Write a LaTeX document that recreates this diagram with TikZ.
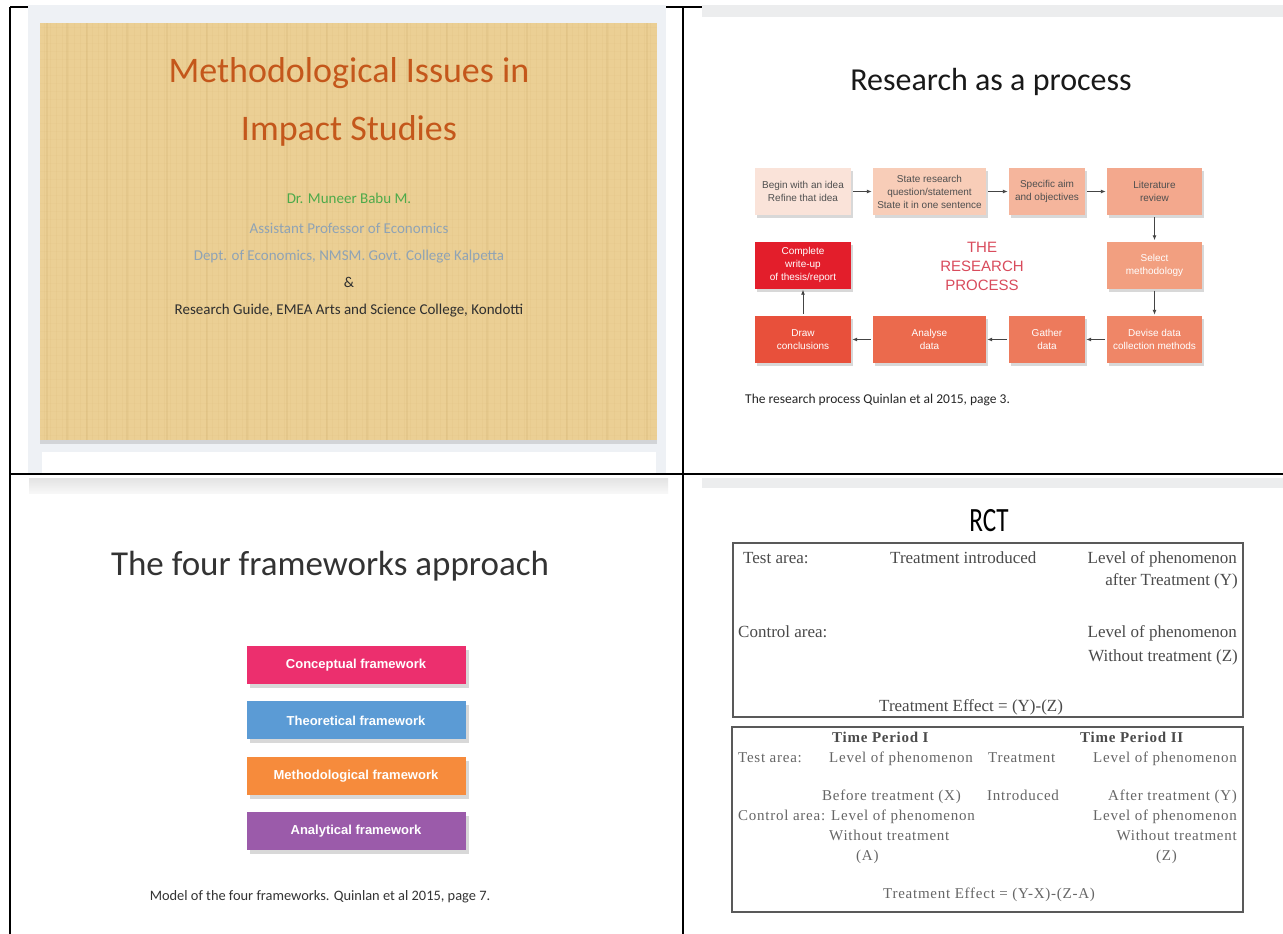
\documentclass[tikz,border=0pt]{standalone}
\usepackage{fontspec}
\usepackage{graphicx}
\setmainfont{Carlito}
\newfontfamily\boxfont{Liberation Sans}
\newfontfamily\rctfont{Liberation Serif}
\newfontfamily\rctwide[LetterSpace=5]{Liberation Serif}
\usetikzlibrary{arrows.meta, shadows, positioning}
\newcommand{\fsz}[2]{\fontsize{#1}{#2}\selectfont}

\definecolor{panelgray}{HTML}{EEF1F5}
\definecolor{stripgray}{HTML}{ECEDEE}
\definecolor{slidetan}{HTML}{EBCF94}
\definecolor{tanbrown}{HTML}{B8944E}
\definecolor{titlebrown}{HTML}{C4571B}
\definecolor{authgreen}{HTML}{4DAA4A}
\definecolor{affblue}{HTML}{8FA3B5}
\definecolor{guidedark}{HTML}{2F2F2F}
\definecolor{rptext}{HTML}{4F4F4F}
\definecolor{rpred}{HTML}{D94B5C}
\definecolor{rpA}{HTML}{FAE3D9}
\definecolor{rpB}{HTML}{F8CDB8}
\definecolor{rpC}{HTML}{F5B59C}
\definecolor{rpD}{HTML}{F3A88D}
\definecolor{rpE}{HTML}{F29F80}
\definecolor{rpF}{HTML}{EF8667}
\definecolor{rpG}{HTML}{ED7A5C}
\definecolor{rpH}{HTML}{EB6A4D}
\definecolor{rpI}{HTML}{E8503B}
\definecolor{rpJ}{HTML}{E31E2B}
\definecolor{arrowgray}{HTML}{444444}
\definecolor{fwpink}{HTML}{EC2F6E}
\definecolor{fwblue}{HTML}{5B9BD5}
\definecolor{fworange}{HTML}{F68B3C}
\definecolor{fwpurple}{HTML}{9B5BAA}
\definecolor{headgray}{HTML}{333333}
\definecolor{rctgray}{HTML}{4A4A4A}
\definecolor{rctlight}{HTML}{666666}
\definecolor{rctline}{HTML}{595959}

\tikzset{
  tablerule/.style={line width=2pt, black},
  streakline/.style={draw=tanbrown, opacity=.06, line width=.8pt},
  streakbold/.style={draw=tanbrown, opacity=.12, line width=1.2pt},
  weaveline/.style={draw=tanbrown, opacity=.035, line width=.6pt},
  slidetext/.style={anchor=base, inner sep=0pt, font=\fsz{15}{18}},
  rpbox/.style={minimum height=47pt, inner sep=1pt, align=center,
    font=\boxfont\fsz{10}{13},
    drop shadow={opacity=.3, shadow xshift=2pt, shadow yshift=-3pt}},
  rpdark/.style={rpbox, text=rptext},
  rplight/.style={rpbox, text=white},
  rparrow/.style={draw=arrowgray, line width=.9pt, shorten <=2pt, shorten >=1pt,
    -{Latex[length=5pt,width=4pt]}},
  fwbox/.style={minimum width=219pt, minimum height=38pt, inner sep=0pt,
    text=white, font=\boxfont\bfseries\fsz{13}{15},
    drop shadow={opacity=.3, shadow xshift=3pt, shadow yshift=-4pt}},
  rctframe/.style={draw=rctline, line width=1.8pt},
  rctl/.style={anchor=base west, inner sep=0pt, text=rctgray, font=\rctfont\fsz{17}{20}},
  rctr/.style={rctl, anchor=base east},
  rctsl/.style={anchor=base west, inner sep=0pt, text=rctlight, font=\rctwide\fsz{15}{18}},
  rctsr/.style={rctsl, anchor=base east},
  rctsb/.style={rctsl, text=rctgray, font=\rctwide\bfseries\fsz{15}{18}}
}

\begin{document}
\begin{tikzpicture}[x=1pt, y=-1pt]
\useasboundingbox (0,0) rectangle (1283,934);
\fill[white] (0,0) rectangle (1283,934);

% table rules
\draw[tablerule] (10,7) -- (1283,7);
\draw[tablerule] (10,7) -- (10,934);
\draw[tablerule] (683,7) -- (683,934);
\draw[tablerule] (10,474) -- (1283,474);

% slide 1: title slide
\fill[panelgray] (28,5) rectangle (666,472.5);
\fill[white] (42,452) rectangle (656,472.5);
\fill[slidetan, drop shadow={opacity=.25, shadow xshift=0pt, shadow yshift=-4pt}] (40,23) rectangle (657,440);
\foreach \x in {44,50,...,654} \draw[streakline] (\x,23) -- (\x,440);
\foreach \x in {47,67,...,647} \draw[streakbold] (\x,23) -- (\x,440);
\foreach \y in {27,35,...,435} \draw[weaveline] (40,\y) -- (657,\y);

\node[anchor=base, inner sep=0pt, font=\fsz{36}{40}, text=titlebrown] (title1) at (349,82) {Methodological Issues in};
\node[anchor=base, inner sep=0pt, font=\fsz{36}{40}, text=titlebrown] (title2) at (349,140) {Impact Studies};
\node[slidetext, text=authgreen] (author) at (349,203) {Dr. Muneer Babu M.};
\node[slidetext, text=affblue] (post) at (349,233) {Assistant Professor of Economics};
\node[slidetext, text=affblue] (dept) at (349,260) {Dept. of Economics, NMSM. Govt. College Kalpetta};
\node[slidetext, text=guidedark] (amp) at (349,287) {\&};
\node[slidetext, text=guidedark] (guide) at (349,314) {Research Guide, EMEA Arts and Science College, Kondotti};

% slide 2: research process
\fill[stripgray] (702,5) rectangle (1283,17);
\node[anchor=base, inner sep=0pt, font=\fsz{32}{36}, text=black!90] (rptitle) at (991,91) {Research as a process};

\node[rpdark, fill=rpA, minimum width=96pt] (rpidea) at (803,191.5) {Begin with an idea\\Refine that idea};
\node[rpdark, fill=rpB, minimum width=113pt] (rpquestion) at (929.5,191.5) {State research\\question/statement\\State it in one sentence};
\node[rpdark, fill=rpC, minimum width=76pt] (rpaims) at (1047,191.5) {Specific aim\\and objectives};
\node[rpdark, fill=rpD, minimum width=95pt] (rplit) at (1154.5,191.5) {Literature\\review};
\node[rplight, fill=rpE, minimum width=95pt] (rpmethod) at (1154.5,265) {Select\\methodology};
\node[rplight, fill=rpF, minimum width=95pt] (rpdevise) at (1154.5,339.5) {Devise data\\collection methods};
\node[rplight, fill=rpG, minimum width=76pt] (rpgather) at (1047,339.5) {Gather\\data};
\node[rplight, fill=rpH, minimum width=113pt] (rpanalyse) at (929.5,339.5) {Analyse\\data};
\node[rplight, fill=rpI, minimum width=96pt] (rpconclude) at (803,339.5) {Draw\\conclusions};
\node[rplight, fill=rpJ, minimum width=96pt] (rpwriteup) at (803,265) {Complete\\write-up\\of thesis/report};
\node[align=center, inner sep=0pt, font=\boxfont\fsz{15}{19}, text=rpred] (rpcentre) at (982,266) {THE\\RESEARCH\\PROCESS};

\foreach \a/\b in {rpidea/rpquestion, rpquestion/rpaims, rpaims/rplit, rplit/rpmethod,
  rpmethod/rpdevise, rpdevise/rpgather, rpgather/rpanalyse, rpanalyse/rpconclude,
  rpconclude/rpwriteup}
  \draw[rparrow] (\a) -- (\b);

\node[anchor=base west, inner sep=0pt, font=\fsz{13.5}{16}, text=black!85] (rpcaption) at (745,403) {The research process Quinlan et al 2015, page 3.};

% slide 3: four frameworks
\fill[top color=gray!22, bottom color=gray!6] (29,478) rectangle (668,493);
\node[anchor=base, inner sep=0pt, font=\fsz{35}{40}, text=headgray] (fwtitle) at (330,575) {The four frameworks approach};
\node[fwbox, fill=fwpink] (fwconcept) at (356,665) {Conceptual framework};
\node[fwbox, fill=fwblue, below=17pt of fwconcept] (fwtheory) {Theoretical framework};
\node[fwbox, fill=fworange, below=17pt of fwtheory] (fwmethod) {Methodological framework};
\node[fwbox, fill=fwpurple, below=17pt of fwmethod] (fwanalytic) {Analytical framework};
\node[anchor=base, inner sep=0pt, font=\fsz{14.4}{17}, text=headgray] (fwcaption) at (320,900) {Model of the four frameworks. Quinlan et al 2015, page 7.};

% slide 4: RCT
\fill[stripgray] (702,478) rectangle (1283,488);
\node[anchor=base, inner sep=0pt, font=\fsz{34}{38}, text=black] (rcttitle) at (989,531) {\scalebox{.74}[1]{RCT}};
\draw[rctframe] (733,543) rectangle (1243,717);
\draw[rctframe] (732,727) rectangle (1243,912);

\node[rctl] (testA) at (743,563) {Test area:};
\node[rctl] (treatA) at (890,563) {Treatment introduced};
\node[rctr] (levA) at (1237,563) {Level of phenomenon};
\node[rctr] (afterA) at (1238,585) {after Treatment (Y)};
\node[rctl] (ctrlA) at (738,637) {Control area:};
\node[rctr] (levB) at (1237,637) {Level of phenomenon};
\node[rctr] (withoutA) at (1238,661) {Without treatment (Z)};
\node[rctl] (effectA) at (879,711) {Treatment Effect = (Y)-(Z)};

\node[rctsb] (periodI) at (832,742) {Time Period I};
\node[rctsb] (periodII) at (1080,742) {Time Period II};
\node[rctsl] (testB) at (738,762) {Test area:};
\node[rctsl] (levC) at (829,762) {Level of phenomenon};
\node[rctsl] (treatB) at (988,762) {Treatment};
\node[rctsr] (levD) at (1237,762) {Level of phenomenon};
\node[rctsl] (beforeB) at (822,800) {Before treatment (X)};
\node[rctsl] (introB) at (987,800) {Introduced};
\node[rctsr] (afterB) at (1237,800) {After treatment (Y)};
\node[rctsl] (ctrlB) at (738,820) {Control area: Level of phenomenon};
\node[rctsr] (levE) at (1237,820) {Level of phenomenon};
\node[rctsl] (withoutB) at (829,840) {Without treatment};
\node[rctsr] (withoutC) at (1237,840) {Without treatment};
\node[rctsl] (aB) at (856,860) {(A)};
\node[rctsl] (zB) at (1156,860) {(Z)};
\node[rctsl] (effectB) at (883,898) {Treatment Effect = (Y-X)-(Z-A)};
\end{tikzpicture}
\end{document}
